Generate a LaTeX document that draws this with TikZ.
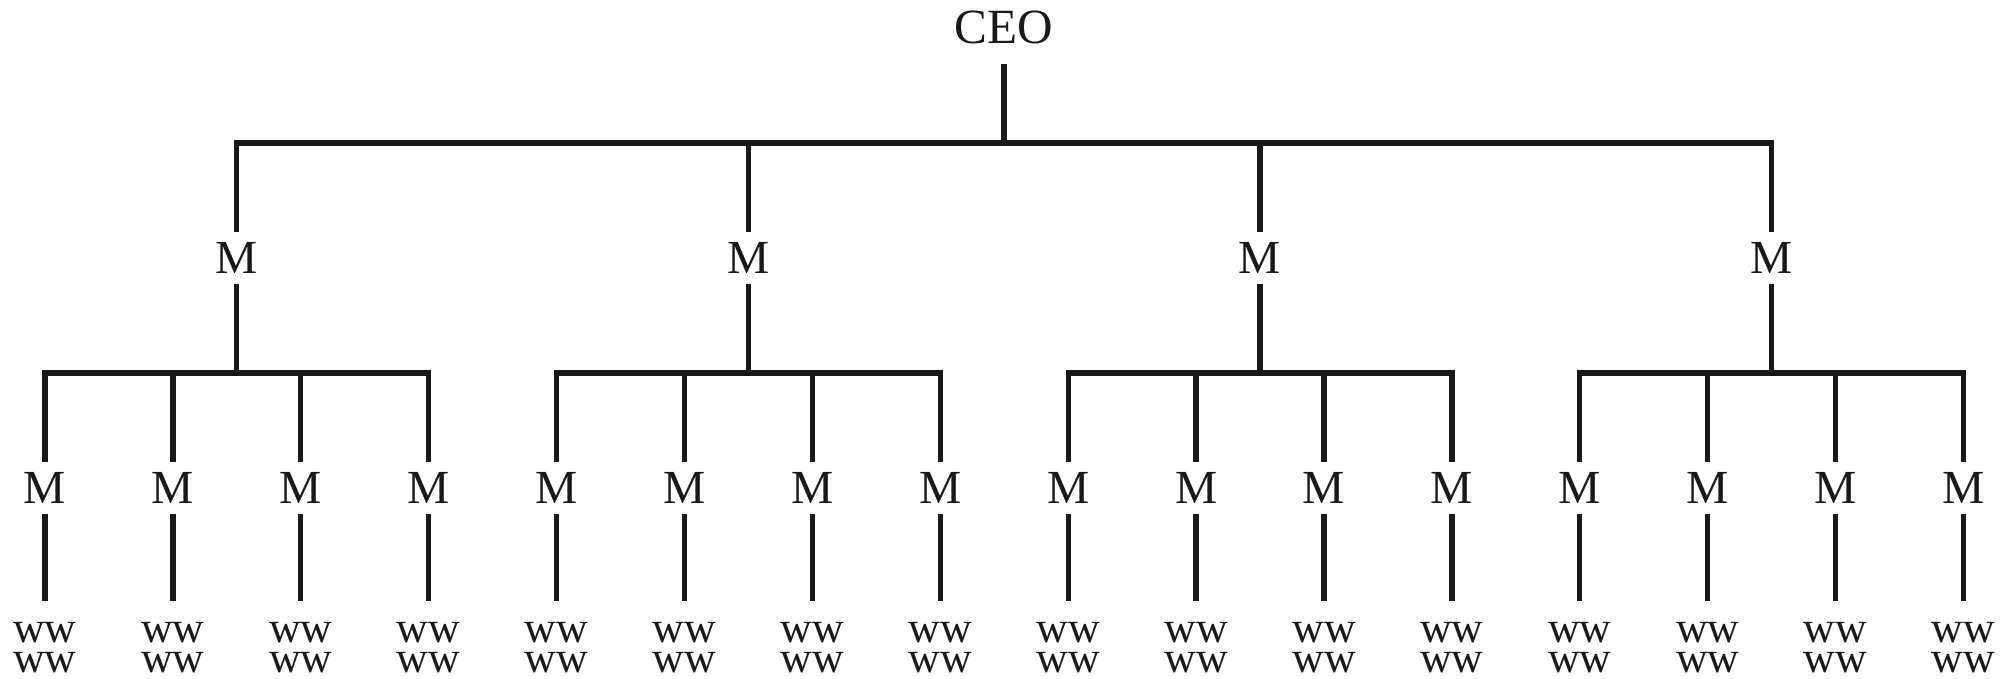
\documentclass[tikz,border=0pt]{standalone}
\usepackage{fontspec}
\setmainfont{Liberation Serif}

\begin{document}
\begin{tikzpicture}[line width=1.5pt, line join=miter, black!90,
		boss/.style={font=\fontsize{14}{16}\selectfont, inner ysep=4.8pt},
		mgr/.style={font=\fontsize{13.5}{15}\selectfont, inner xsep=2pt, inner ysep=2.2pt},
		crew/.style={font=\fontsize{12.5}{8.7}\selectfont, align=center, anchor=north, inner ysep=5.2pt}]
	
	\useasboundingbox (0,0) rectangle (20.15,-6.78);
	
	% the top of the tree
	\node[boss] (ceo) at (10.04,-0.275) {CEO};
	\coordinate (top) at (10.04,-1.43);
	\draw (ceo) -- (top);
	
	% four managers, each with four managers and their workers below
	\foreach \g in {1,...,4}{
		\pgfmathsetmacro{\mx}{0.45+1.279*(4*\g-2.5)}
		\node[mgr] (m\g) at (\mx,-2.58) {M};
		\draw (top) -| (m\g);
		\coordinate (j\g) at (\mx,-3.73);
		\draw (m\g) -- (j\g);
		\foreach \i in {1,...,4}{
			\pgfmathsetmacro{\sx}{0.45+1.279*(4*\g+\i-5)}
			\node[mgr] (s\g\i) at (\sx,-4.88) {M};
			\node[crew] (w\g\i) at (\sx,-6.01) {ww\\ww};
			\draw (j\g) -| (s\g\i);
			\draw (s\g\i) -- (w\g\i);
		}
	}
	
\end{tikzpicture}
\end{document}
